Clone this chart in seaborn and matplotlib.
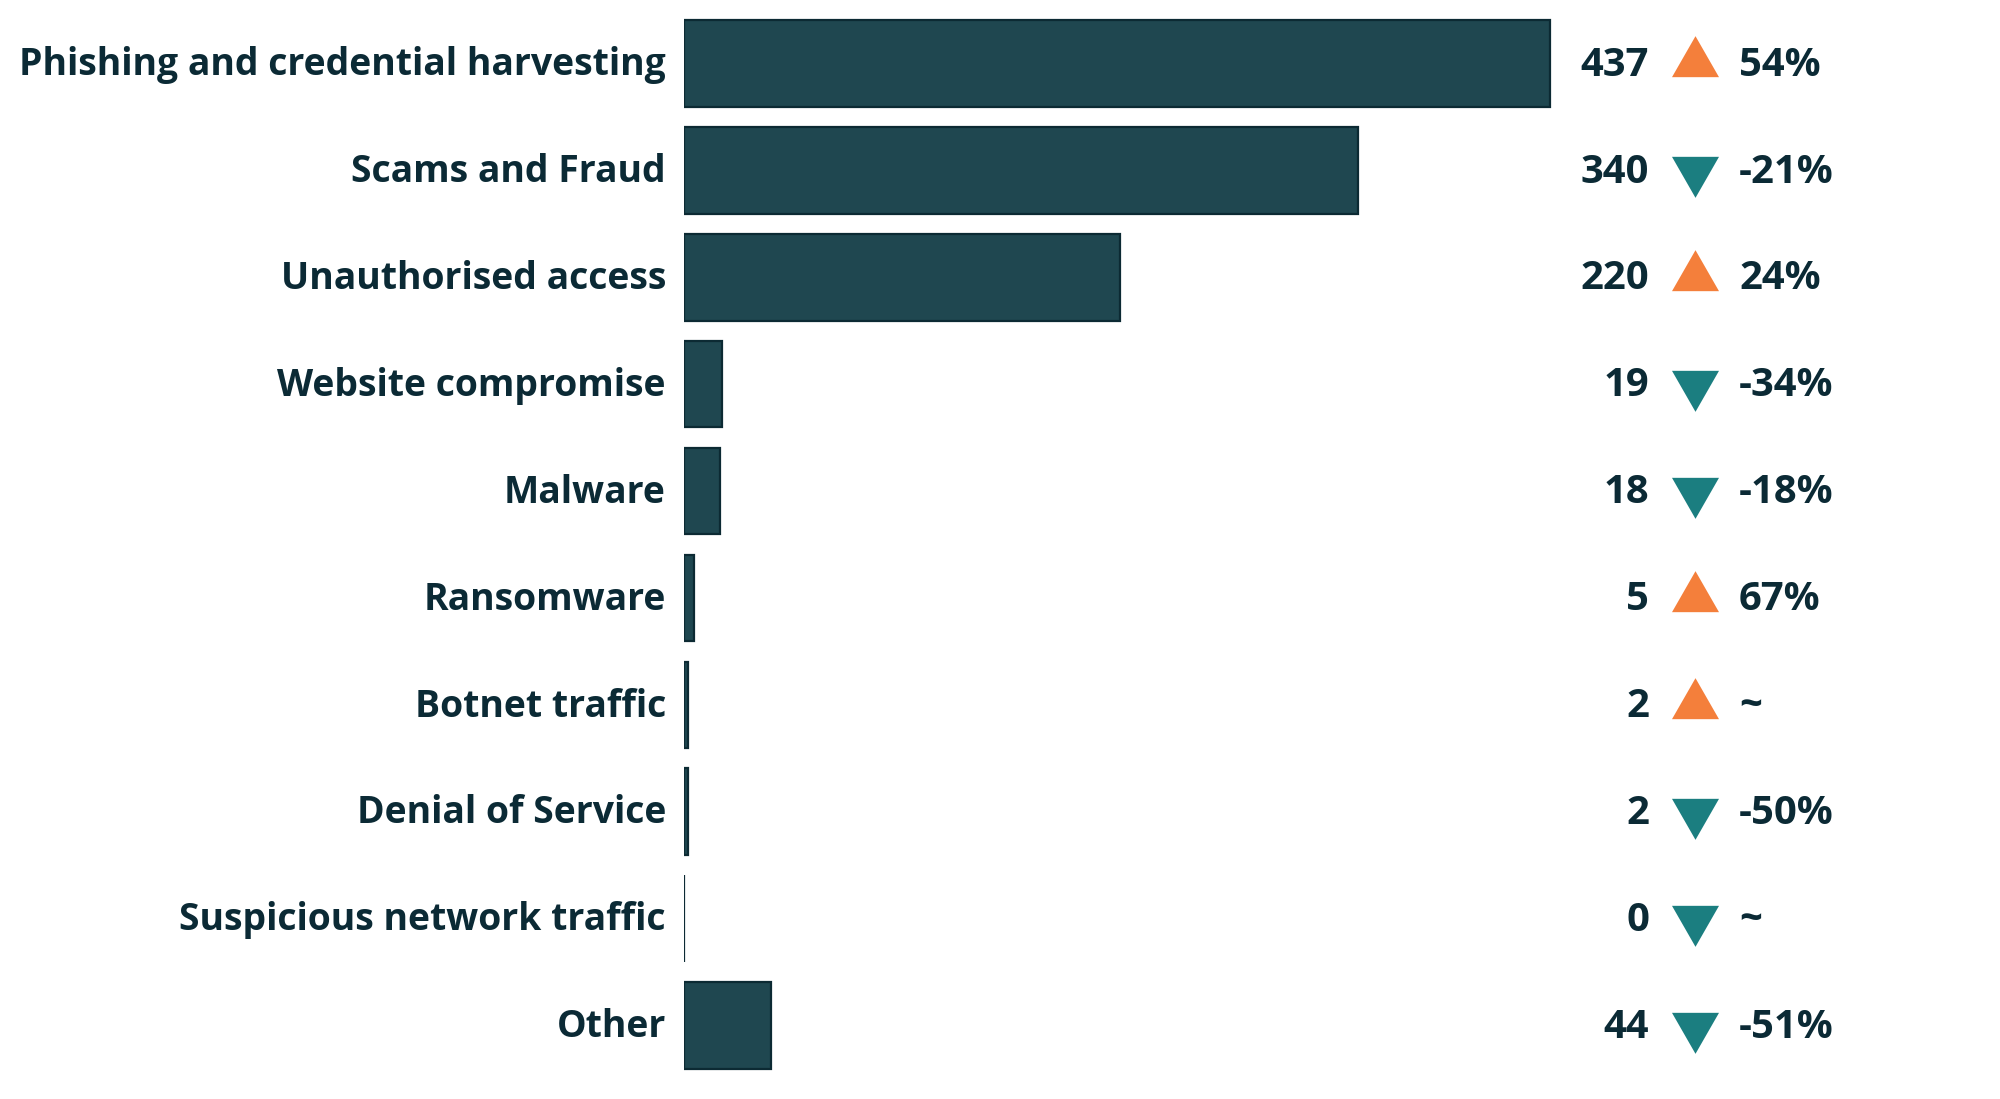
import matplotlib
matplotlib.use("Agg")
import matplotlib.pyplot as plt
import matplotlib.transforms as mtransforms
from matplotlib.path import Path
import seaborn as sns
import pandas as pd

categories = ["Phishing and credential harvesting", "Scams and Fraud", "Unauthorised access",
              "Website compromise", "Malware", "Ransomware", "Botnet traffic",
              "Denial of Service", "Suspicious network traffic", "Other"]
counts = [437, 340, 220, 19, 18, 5, 2, 2, 0, 44]
change_labels = ["54%", "-21%", "24%", "-34%", "-18%", "67%", "~", "-50%", "~", "-51%"]
direction = ["up", "down", "up", "down", "down", "up", "up", "down", "down", "down"]

TEXT = "#0B2A35"
BAR = "#1F4750"
EDGE = "#0C2A33"
ORANGE = "#F47F3B"
TEAL = "#1B7E80"

sns.set_theme(style="white")
plt.rcParams['font.family'] = ['Open Sans', 'DejaVu Sans']
plt.rcParams['font.weight'] = 'bold'

df = pd.DataFrame({"category": categories, "count": counts})

fig = plt.figure(figsize=(20, 10.99), dpi=100)
ax = fig.add_axes([0.342, 20 / 1099, 991 / 2000, 1069 / 1099])
sns.barplot(data=df, y="category", x="count", orient="h", color=BAR,
            saturation=1, width=0.81, edgecolor=EDGE, linewidth=1.6, ax=ax)
ax.set_xlim(0, 500)
ax.set_ylim(9.5, -0.5)
ax.set_xlabel("")
ax.set_ylabel("")
ax.set_xticks([])
for s in ax.spines.values():
    s.set_visible(False)
ax.tick_params(axis="y", length=0, pad=13, labelsize=26.9, labelcolor=TEXT)
shift = mtransforms.ScaledTranslation(0, 2 / 72, fig.dpi_scale_trans)
for t in ax.get_yticklabels():
    t.set_fontweight("bold")
    t.set_transform(t.get_transform() + shift)

trans = mtransforms.blended_transform_factory(fig.transFigure, ax.transData)
ttrans = trans + shift
x_num = 1649 / 2000
x_tri = 1695 / 2000
x_pct = 1739 / 2000

# triangles with centroid at the anchor
h = 41.0
w = 47.0
up_verts = [(0, 2 * h / 3), (-w / 2, -h / 3), (w / 2, -h / 3), (0, 2 * h / 3)]
down_verts = [(x, -y) for x, y in up_verts]
up_marker = Path(up_verts, [Path.MOVETO, Path.LINETO, Path.LINETO, Path.CLOSEPOLY])
down_marker = Path(down_verts, [Path.MOVETO, Path.LINETO, Path.LINETO, Path.CLOSEPOLY])
ms_pt = 2 * (2 * h / 3) * 0.72

for i, (c, lab, d) in enumerate(zip(counts, change_labels, direction)):
    ax.text(x_num, i, str(c), transform=ttrans, ha="right", va="center_baseline",
            fontsize=28.8, fontweight="bold", color=TEXT)
    ax.plot([x_tri], [i], transform=trans, marker=up_marker if d == "up" else down_marker,
            markersize=ms_pt, color=ORANGE if d == "up" else TEAL, linestyle="none",
            markeredgewidth=0, clip_on=False)
    ax.text(x_pct, i, lab, transform=ttrans, ha="left", va="center_baseline",
            fontsize=28.8, fontweight="bold", color=TEXT)

fig.savefig("out.png", dpi=100, facecolor="white")
